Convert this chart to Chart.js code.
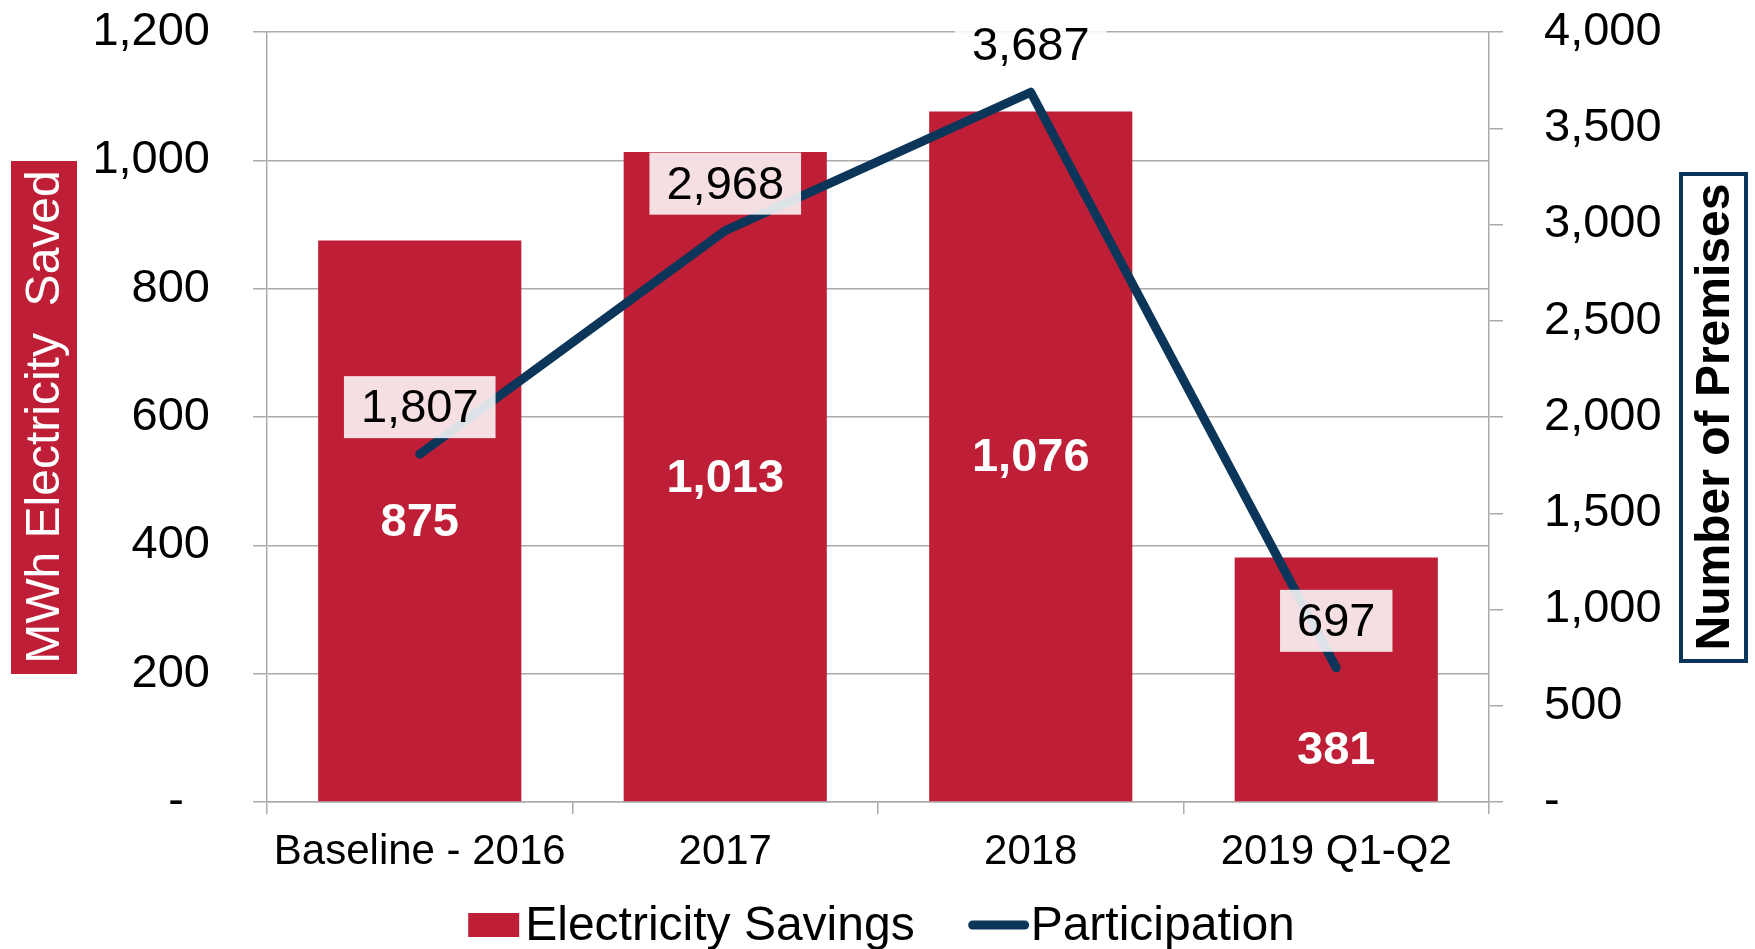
<!DOCTYPE html>
<html>
<head>
<meta charset="utf-8">
<script src="https://cdn.jsdelivr.net/npm/chart.js@4.4.1/dist/chart.umd.min.js"></script>
<style>
  html, body { margin: 0; padding: 0; background: #fff; }
  #wrap { width: 1755px; height: 949px; position: relative; }
</style>
</head>
<body>
<div id="wrap"><canvas id="chart"></canvas></div>
<script>
// data
const categories = ['Baseline - 2016', '2017', '2018', '2019 Q1-Q2'];
const savingsMWh = [875, 1013, 1076, 381];
const participation = [1807, 2968, 3687, 697];
const savingsTicks = [0, 200, 400, 600, 800, 1000, 1200];
const premisesTicks = [0, 500, 1000, 1500, 2000, 2500, 3000, 3500, 4000];

const RED = '#BE1E36';
const NAVY = '#0B3659';
const GRID = '#ABABAB';
const FONT = "'Liberation Sans', Arial, sans-serif";

function fmt(v) {
    return v === 0 ? '-  ' : v.toLocaleString('en-US');
}

// labels, axis title boxes and legend
const decorations = {
    id: 'decorations',
    afterDatasetsDraw(chart) {
        const ctx = chart.ctx;
        const barMeta = chart.getDatasetMeta(0);
        const lineMeta = chart.getDatasetMeta(1);
        ctx.save();
        ctx.textAlign = 'center';
        ctx.textBaseline = 'middle';

        // participation labels in light boxes above the points
        const boxes = [];
        ctx.font = '47px ' + FONT;
        lineMeta.data.forEach((pt, i) => {
            const txt = participation[i].toLocaleString('en-US');
            const w = ctx.measureText(txt).width + 34;
            const h = 62;
            const cy = pt.y - 47;
            ctx.fillStyle = 'rgba(255,255,255,0.86)';
            ctx.fillRect(pt.x - w / 2, cy - h / 2, w, h);
            ctx.fillStyle = '#000';
            ctx.fillText(txt, pt.x, cy + 2);
            boxes.push({ top: cy - h / 2, bottom: cy + h / 2 });
        });

        // savings labels, centred in the bar unless they hit the line label
        ctx.font = 'bold 47px ' + FONT;
        ctx.fillStyle = '#fff';
        barMeta.data.forEach((bar, i) => {
            let y = (bar.y + bar.base) / 2;
            const pt = lineMeta.data[i];
            const top = Math.min(boxes[i].top, pt.y);
            const bottom = Math.max(boxes[i].bottom, pt.y);
            if (y + 26 > top && y - 26 < bottom) y = bar.base - 52;
            ctx.fillText(savingsMWh[i].toLocaleString('en-US'), bar.x, y + 2);
        });
        ctx.restore();
    },
    afterDraw(chart) {
        const ctx = chart.ctx;
        const area = chart.chartArea;
        const midY = (area.top + area.bottom) / 2;

        // left axis title
        ctx.save();
        ctx.fillStyle = RED;
        ctx.fillRect(11, midY - 256, 66, 513);
        ctx.translate(44, midY);
        ctx.rotate(-Math.PI / 2);
        ctx.font = '48px ' + FONT;
        ctx.fillStyle = '#fff';
        ctx.textAlign = 'center';
        ctx.textBaseline = 'middle';
        ctx.fillText('MWh Electricity  Saved', 0, 2);
        ctx.restore();

        // right axis title
        ctx.save();
        ctx.fillStyle = '#fff';
        ctx.fillRect(1681, midY - 243, 65, 487);
        ctx.strokeStyle = NAVY;
        ctx.lineWidth = 4;
        ctx.strokeRect(1681, midY - 243, 65, 487);
        ctx.translate(1714, midY);
        ctx.rotate(-Math.PI / 2);
        ctx.font = 'bold 48px ' + FONT;
        ctx.fillStyle = '#000';
        ctx.textAlign = 'center';
        ctx.textBaseline = 'middle';
        ctx.fillText('Number of Premises', 0, 2);
        ctx.restore();

        // legend
        ctx.save();
        ctx.font = '48px ' + FONT;
        const t1 = chart.data.datasets[0].label;
        const t2 = chart.data.datasets[1].label;
        const w1 = ctx.measureText(t1).width;
        const w2 = ctx.measureText(t2).width;
        const total = 51 + 6 + w1 + 54 + 62 + w2;
        let x = chart.width / 2 - total / 2 + 4;
        const y = 925;
        ctx.fillStyle = RED;
        ctx.fillRect(x, y - 12, 51, 24);
        x += 57;
        ctx.fillStyle = '#000';
        ctx.textAlign = 'left';
        ctx.textBaseline = 'middle';
        ctx.fillText(t1, x, y + 2);
        x += w1 + 54;
        ctx.strokeStyle = NAVY;
        ctx.lineWidth = 9;
        ctx.lineCap = 'round';
        ctx.beginPath();
        ctx.moveTo(x + 4, y);
        ctx.lineTo(x + 56, y);
        ctx.stroke();
        x += 62;
        ctx.fillText(t2, x, y + 2);
        ctx.restore();
    }
};

const ctx = document.getElementById('chart').getContext('2d');
new Chart(ctx, {
    data: {
        labels: categories,
        datasets: [
            {
                type: 'bar',
                label: 'Electricity Savings',
                data: savingsMWh,
                backgroundColor: RED,
                yAxisID: 'y',
                order: 1,
                barPercentage: 0.665,
                categoryPercentage: 1
            },
            {
                type: 'line',
                label: 'Participation',
                data: participation,
                borderColor: NAVY,
                borderWidth: 9,
                borderCapStyle: 'round',
                borderJoinStyle: 'round',
                pointRadius: 0,
                tension: 0,
                yAxisID: 'y1',
                order: 0
            }
        ]
    },
    options: {
        responsive: true,
        maintainAspectRatio: false,
        animation: false,
        layout: { padding: { top: 32, left: 0, right: 0, bottom: 0 } },
        plugins: {
            legend: { display: false },
            tooltip: { enabled: false }
        },
        scales: {
            x: {
                grid: { display: true, drawOnChartArea: false, offset: true, tickLength: 12, color: GRID, lineWidth: 1.5 },
                border: { color: GRID, width: 1.5 },
                ticks: { font: { family: FONT, size: 42 }, color: '#000', padding: 13, maxRotation: 0 },
                afterFit(s) { s.height = 147; s.paddingLeft = 0; s.paddingRight = 0; }
            },
            y: {
                position: 'left',
                min: savingsTicks[0],
                max: savingsTicks[savingsTicks.length - 1],
                grid: { color: GRID, lineWidth: 1.5, tickLength: 14 },
                border: { color: GRID, width: 1.5 },
                ticks: {
                    stepSize: savingsTicks[1] - savingsTicks[0],
                    font: { family: FONT, size: 47 }, color: '#000', padding: 43,
                    callback: v => fmt(v)
                },
                afterFit(s) { s.width = 267; s.paddingTop = 0; s.paddingBottom = 0; }
            },
            y1: {
                position: 'right',
                min: premisesTicks[0],
                max: premisesTicks[premisesTicks.length - 1],
                grid: { drawOnChartArea: false, color: GRID, lineWidth: 1.5, tickLength: 14 },
                border: { color: GRID, width: 1.5 },
                ticks: {
                    stepSize: premisesTicks[1] - premisesTicks[0],
                    font: { family: FONT, size: 47 }, color: '#000', padding: 41,
                    callback: v => fmt(v)
                },
                afterFit(s) { s.width = 266; s.paddingTop = 0; s.paddingBottom = 0; }
            }
        }
    },
    plugins: [decorations]
});
</script>
</body>
</html>
